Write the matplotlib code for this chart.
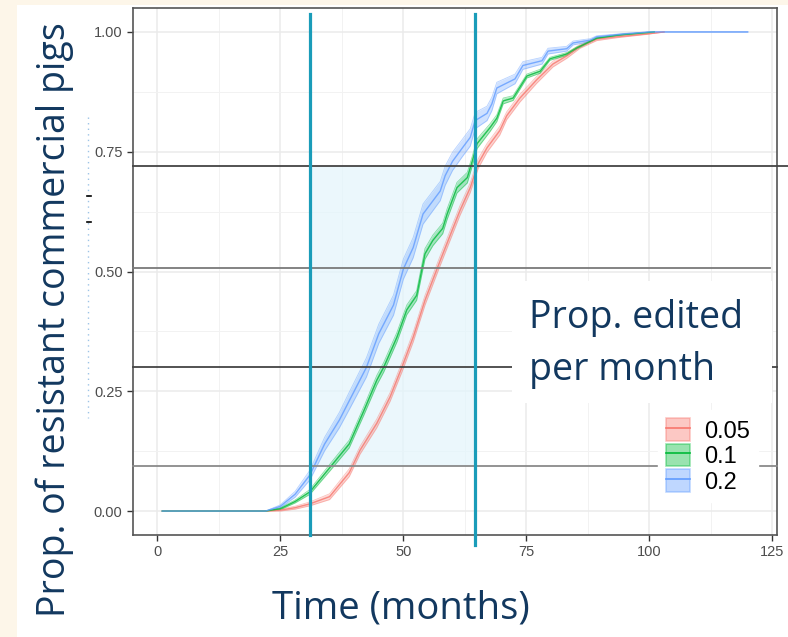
import matplotlib
matplotlib.use("Agg")
import matplotlib.pyplot as plt
from matplotlib.patches import Patch, Rectangle
from matplotlib.lines import Line2D
import numpy as np

# simulated proportion of resistant pigs by monthly editing rate (mean + ribbon half-width)
t_005 = [1, 22, 25, 28, 31, 35, 39, 41.2, 44.6, 47.3, 49.7, 52, 54.4, 57.5, 61.5, 63.6,
         65.2, 67, 69.6, 71, 73.7, 77.1, 80.4, 83.2, 85.9, 89.3, 93.4, 99.5, 103]
v_005 = [0, 0, 0.002, 0.007, 0.015, 0.03, 0.08, 0.127, 0.183, 0.238, 0.30, 0.363, 0.44,
         0.523, 0.627, 0.675, 0.725, 0.758, 0.794, 0.825, 0.862, 0.90, 0.933, 0.95, 0.97,
         0.985, 0.99, 0.996, 1.0]
h_005 = [0, 0, 0.002, 0.003, 0.004, 0.006, 0.008, 0.008, 0.009, 0.009, 0.01, 0.01, 0.01,
         0.01, 0.01, 0.01, 0.01, 0.009, 0.009, 0.008, 0.008, 0.007, 0.006, 0.005, 0.004,
         0.003, 0.002, 0.001, 0]

t_01 = [1, 22, 25, 28, 31, 35, 39, 42, 44.6, 46, 48.7, 50.7, 52.7, 54.4, 56, 58, 58.9,
        60.9, 63, 64, 65, 67.6, 69, 70.3, 72.3, 75.1, 77.8, 79.8, 83.2, 85.3, 89.3, 94, 101]
v_01 = [0, 0, 0.005, 0.02, 0.04, 0.09, 0.14, 0.21, 0.273, 0.30, 0.363, 0.42, 0.45, 0.537,
        0.565, 0.59, 0.62, 0.675, 0.696, 0.73, 0.767, 0.80, 0.82, 0.856, 0.862, 0.908,
        0.918, 0.944, 0.954, 0.967, 0.987, 0.994, 1.0]
h_01 = [0, 0, 0.002, 0.003, 0.005, 0.007, 0.008, 0.009, 0.01, 0.01, 0.01, 0.01, 0.01, 0.011,
        0.011, 0.011, 0.011, 0.011, 0.011, 0.01, 0.01, 0.008, 0.007, 0.006, 0.005, 0.004,
        0.004, 0.003, 0.003, 0.002, 0.001, 0.001, 0]

t_02 = [1, 22, 25, 28, 31, 34, 37, 39, 42.5, 45, 48, 50, 52, 54, 57.5, 58.5, 60, 62, 63.6,
        64.6, 67, 68, 69, 72.7, 74.3, 78.2, 79.4, 83.2, 84.5, 88, 89.3, 95, 100, 120]
v_02 = [0, 0, 0.01, 0.035, 0.075, 0.14, 0.19, 0.23, 0.30, 0.37, 0.43, 0.505, 0.55, 0.62,
        0.668, 0.70, 0.73, 0.758, 0.78, 0.815, 0.83, 0.85, 0.883, 0.902, 0.93, 0.94, 0.96,
        0.965, 0.977, 0.983, 0.99, 0.996, 1.0, 1.0]
h_02 = [0, 0, 0.003, 0.006, 0.01, 0.014, 0.016, 0.018, 0.02, 0.02, 0.021, 0.021, 0.021,
        0.021, 0.02, 0.02, 0.019, 0.018, 0.018, 0.017, 0.015, 0.014, 0.012, 0.01, 0.008,
        0.007, 0.006, 0.005, 0.004, 0.003, 0.002, 0.001, 0, 0]

rates = ["0.05", "0.1", "0.2"]
colors = ["#F8766D", "#00BA38", "#619CFF"]

# window of interest and reference proportions
window = [31.1, 64.6]
levels = [0.721, 0.508, 0.30, 0.094]

navy = "#12385F"
cyan = "#1A9CB9"

fig = plt.figure(figsize=(7.88, 6.37), dpi=100, facecolor="white")
fig.patches.append(Rectangle((0, 0), 17 / 788, 1, transform=fig.transFigure,
                             facecolor="#FDF6E9", edgecolor="none", zorder=-10))
fig.patches.append(Rectangle((0, 1 - 5 / 637), 1, 5 / 637, transform=fig.transFigure,
                             facecolor="#FDF6E9", edgecolor="none", zorder=-10))

ax = fig.add_axes([133 / 788, 1 - 535 / 637, (777 - 133) / 788, (535 - 8) / 637])
ax.set_xlim(-4.95, 125.95)
ax.set_ylim(-0.05, 1.05)
ax.set_xticks([0, 25, 50, 75, 100, 125])
ax.set_yticks([0, 0.25, 0.5, 0.75, 1.0])
ax.set_yticklabels(["0.00", "0.25", "0.50", "0.75", "1.00"])
ax.set_xticks(np.arange(12.5, 125, 25), minor=True)
ax.set_yticks([0.125, 0.375, 0.625, 0.875], minor=True)
ax.grid(which="major", color="#EBEBEB", lw=1.1, zorder=0)
ax.grid(which="minor", color="#F2F2F2", lw=0.7, zorder=0)
ax.set_axisbelow(True)
ax.tick_params(which="major", length=4, width=1, color="#333333", labelcolor="#4D4D4D",
               labelsize=10.5)
ax.tick_params(which="minor", length=0)
for lab in ax.get_xticklabels() + ax.get_yticklabels():
    lab.set_family("Liberation Sans")
for s in ax.spines.values():
    s.set_color("#555555")
    s.set_linewidth(1.2)

# shaded window
ax.add_patch(Rectangle((window[0], levels[3]), window[1] - window[0], levels[0] - levels[3],
                       facecolor="#E3F5FC", alpha=0.7, edgecolor="none", zorder=1))

series = [(t_005, v_005, h_005), (t_01, v_01, h_01), (t_02, v_02, h_02)]
for (t, v, h), c in zip(series, colors):
    t = np.array(t)
    v = np.array(v)
    h = np.array(h)
    ax.fill_between(t, v - h, v + h, color=c, alpha=0.3, lw=0, zorder=3)
    ax.plot(t, v - h, color=c, lw=0.6, alpha=0.45, zorder=3)
    ax.plot(t, v + h, color=c, lw=0.6, alpha=0.45, zorder=3)
    ax.plot(t, v, color=c, lw=1.0, alpha=0.8, zorder=4)

# reference lines over the plot
ref_ends = [128.2, 124.5, 125.95, 125.95]
ref_cols = ["#444444", "#7A7A7A", "#444444", "#8A8A8A"]
for lv, xe, lc in zip(levels, ref_ends, ref_cols):
    ax.plot([-4.95, xe], [lv, lv], color=lc, lw=1.3, zorder=5, clip_on=False)

ax.plot([window[0], window[0]], [1.038, -0.05], color=cyan, lw=2.3, zorder=6, clip_on=False)
ax.plot([window[1], window[1]], [1.038, -0.071], color=cyan, lw=2.3, zorder=6, clip_on=False)

# legend title box
fig.patches.append(Rectangle((512 / 788, 1 - 403 / 637), 260 / 788, 122 / 637,
                             transform=fig.transFigure, facecolor="white",
                             edgecolor="none", zorder=8))
fig.text(529 / 788, 1 - 328 / 637, "Prop. edited", family="Open Sans", fontsize=27,
         color=navy, va="baseline", ha="left", zorder=9)
fig.text(529 / 788, 1 - 380 / 637, "per month", family="Open Sans", fontsize=27,
         color=navy, va="baseline", ha="left", zorder=9)

handles = [(Patch(facecolor=c, alpha=0.4, edgecolor=c, lw=1.2),
            Line2D([], [], color=c, lw=1.2)) for c in colors]
leg = fig.legend(handles, rates, loc="upper left",
                 bbox_to_anchor=(658 / 788, 1 - 410 / 637),
                 prop={"family": "Liberation Sans", "size": 17},
                 frameon=True, fancybox=False, framealpha=1, edgecolor="white",
                 handlelength=1.0, handleheight=1.1, handletextpad=0.6,
                 labelspacing=0.05, borderpad=0.35, borderaxespad=0)
leg.set_zorder(10)

# axis titles
fig.text(55 / 788, 1 - 320 / 637, "Prop. of resistant commercial pigs", family="Open Sans",
         fontsize=27, color=navy, rotation=90, ha="center", va="center")
fig.text(401 / 788, 1 - 619 / 637, "Time (months)", family="Open Sans", fontsize=27.5,
         color=navy, ha="center", va="baseline")

# dotted guide beside the y axis
fig.add_artist(Line2D([88 / 788, 88 / 788], [1 - 117 / 637, 1 - 418 / 637],
                      transform=fig.transFigure, color="#9DC3E6", lw=1, ls=(0, (1, 3))))
for yy in [196, 222]:
    fig.add_artist(Line2D([87 / 788, 91 / 788], [1 - yy / 637, 1 - yy / 637],
                          transform=fig.transFigure, color="black", lw=1.2))

fig.savefig("out.png", dpi=100, facecolor=fig.get_facecolor())
